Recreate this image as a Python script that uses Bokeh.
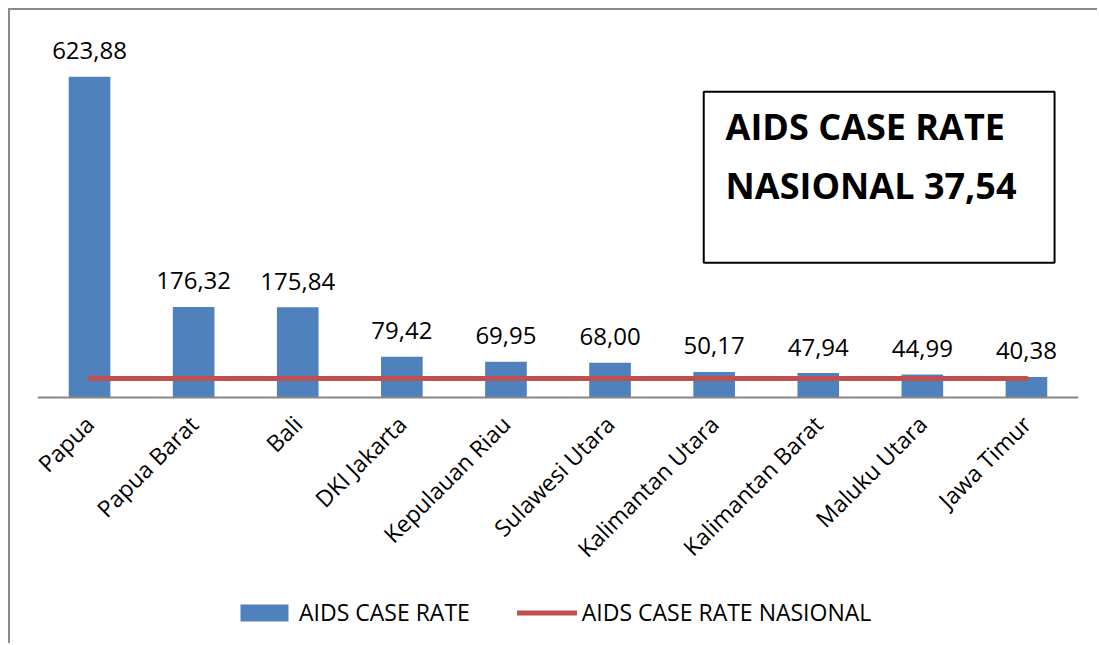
import math
from bokeh.plotting import figure
from bokeh.models import ColumnDataSource, Label, BoxAnnotation, Legend, LegendItem, FactorRange
from bokeh.core.properties import value
from bokeh.embed import file_html
from bokeh.resources import INLINE

provinces = ["Papua", "Papua Barat", "Bali", "DKI Jakarta", "Kepulauan Riau",
             "Sulawesi Utara", "Kalimantan Utara", "Kalimantan Barat", "Maluku Utara", "Jawa Timur"]
case_rate = [623.88, 176.32, 175.84, 79.42, 69.95, 68.00, 50.17, 47.94, 44.99, 40.38]
national_rate = 37.54
rate_labels = [f"{v:.2f}".replace(".", ",") for v in case_rate]
box_line1 = "AIDS CASE RATE"
box_line2 = "NASIONAL " + f"{national_rate:.2f}".replace(".", ",")

FONT = "Open Sans"
BLUE = "#4F81BD"
RED = "#C0504D"

src = ColumnDataSource(dict(x=provinces, y=case_rate, lab=rate_labels,
                            nat=[national_rate] * len(provinces)))

p = figure(x_range=FactorRange(*provinces), y_range=(-481.5, 700),
           width=1089, height=635, output_backend="svg", toolbar_location=None,
           min_border_left=27, min_border_right=21, min_border_top=27, min_border_bottom=0,
           margin=(8, 0, 0, 8),
           styles={"border-left": "2px solid #8a8a8a", "border-top": "2px solid #8a8a8a"})
p.outline_line_color = None
p.grid.visible = False
p.yaxis.visible = False

bars = p.vbar(x="x", top="y", width=0.4, source=src, fill_color=BLUE, line_color=None)
line = p.line(x="x", y="nat", source=src, line_color=RED, line_width=5, line_cap="round")
p.text(x="x", y="y", text="lab", source=src, text_align="center", text_baseline="alphabetic",
       y_offset=-26, text_font=value(FONT), text_font_size="24px", text_color="black")

ax = p.xaxis[0]
ax.fixed_location = 0
ax.axis_line_color = "#868686"
ax.axis_line_width = 2
ax.major_tick_line_color = None
ax.minor_tick_line_color = None
ax.major_label_orientation = math.pi / 4
ax.major_label_text_font = FONT
ax.major_label_text_font_size = "23px"
ax.major_label_text_color = "black"
ax.major_label_standoff = 16

# text box
box = BoxAnnotation(left=6.40, right=9.77, bottom=262.3, top=594.6,
                    fill_color="white", fill_alpha=1.0,
                    line_color="black", line_alpha=1.0, line_width=2)
p.add_layout(box)
p.add_layout(Label(x=6.61, y=527.0, text=box_line1, text_font=FONT, text_font_style="bold",
                   text_font_size="36px", text_color="black", text_baseline="alphabetic"))
p.add_layout(Label(x=6.61, y=413.0, text=box_line2, text_font=FONT, text_font_style="bold",
                   text_font_size="36px", text_color="black", text_baseline="alphabetic"))

legend = Legend(items=[LegendItem(label="AIDS CASE RATE", renderers=[bars]),
                       LegendItem(label="AIDS CASE RATE NASIONAL", renderers=[line])],
                orientation="horizontal", location=(197, 17),
                glyph_width=60, glyph_height=21, label_standoff=5, spacing=47,
                padding=0, margin=0, border_line_color=None, background_fill_alpha=0,
                label_text_font=FONT, label_text_font_size="23px", label_text_color="black")
p.add_layout(legend, "center")

open("out.html", "w").write(file_html(p, INLINE))
